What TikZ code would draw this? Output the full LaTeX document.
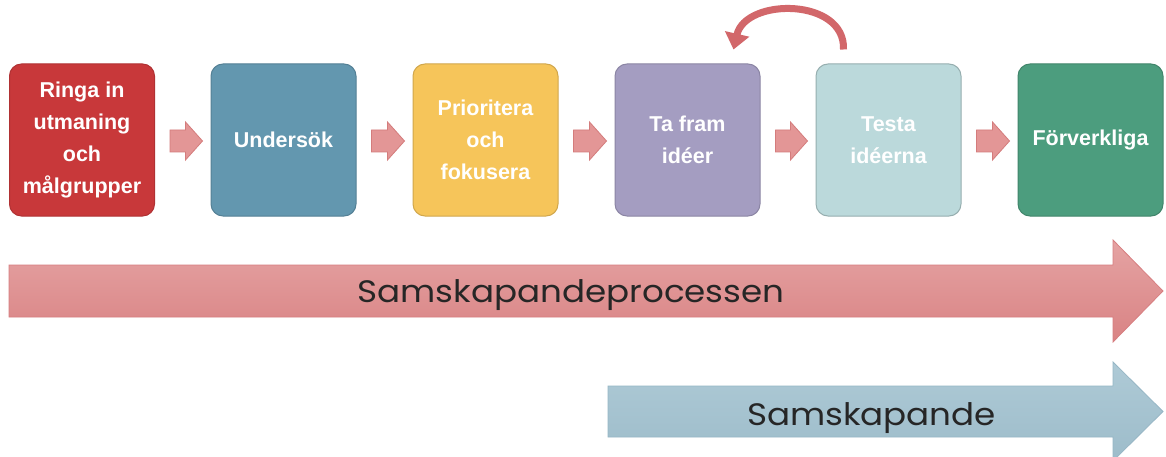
\documentclass[tikz,border=0pt]{standalone}
\usepackage{fontspec}
\setmainfont{Liberation Sans}
\newfontfamily\arrowfont{Poppins}
\usetikzlibrary{calc,arrows.meta}
\definecolor{cRed}{HTML}{C8383A}
\definecolor{cBlue}{HTML}{6397AF}
\definecolor{cYellow}{HTML}{F6C55A}
\definecolor{cPurple}{HTML}{A49DC1}
\definecolor{cTeal}{HTML}{BBD9DB}
\definecolor{cGreen}{HTML}{4C9D7E}
\definecolor{cPink}{HTML}{E39696}
\definecolor{cPinkDark}{HTML}{D47C7C}
\definecolor{bigRedTop}{HTML}{E5A3A3}
\definecolor{bigRedBot}{HTML}{D98384}
\definecolor{bigRedLine}{HTML}{D77E80}
\definecolor{bigBlueTop}{HTML}{AECAD6}
\definecolor{bigBlueBot}{HTML}{9DBCCA}
\definecolor{bigBlueLine}{HTML}{96B6C5}
\definecolor{curveRed}{HTML}{D2676A}
\definecolor{darkText}{HTML}{262626}
\tikzset{
  stepbox/.style={rounded corners=12pt, minimum width=145pt, minimum height=152pt,
    inner sep=0pt, text=white, align=center, line width=1pt,
    font=\bfseries\fontsize{21.5}{32}\selectfont},
  chev/.style={fill=cPink, draw=cPinkDark, line width=0.8pt, line join=miter},
  curvearrow/.style={draw=curveRed, line width=7pt,
    -{Triangle[width=24pt,length=16pt]}},
  bigtext/.style={text=darkText, inner sep=0pt, anchor=base,
    font=\arrowfont\fontsize{31}{31}\selectfont}
}
\newcommand{\chevarrow}[2]{%
  \draw[chev] ($(#1.east)+(15,-10)$) -- ($(#2.west)+(-25,-10)$)
    -- ($(#2.west)+(-25,-18)$) -- ($(#2.west)+(-8,1)$)
    -- ($(#2.west)+(-25,20)$) -- ($(#2.west)+(-25,12)$)
    -- ($(#1.east)+(15,12)$) -- cycle;}
\begin{document}
\begin{tikzpicture}[x=1pt,y=-1pt]
\clip (0,0) rectangle (1166,457);
\fill[white] (0,0) rectangle (1166,457);
% steps
\node[stepbox, fill=cRed, draw=cRed!88!black] (b1) at (82,140) {Ringa in\\utmaning\\och\\målgrupper};
\node[stepbox, fill=cBlue, draw=cBlue!85!black] (b2) at (283.5,140) {Undersök};
\node[stepbox, fill=cYellow, draw=cYellow!85!black] (b3) at (485.5,140) {Prioritera\\och\\fokusera};
\node[stepbox, fill=cPurple, draw=cPurple!85!black] (b4) at (687.5,140) {Ta fram\\idéer};
\node[stepbox, fill=cTeal, draw=cTeal!80!black] (b5) at (888.5,140) {Testa\\idéerna};
\node[stepbox, fill=cGreen, draw=cGreen!85!black] (b6) at (1090.5,140) {Förverkliga};
% small arrows
\chevarrow{b1}{b2}
\chevarrow{b2}{b3}
\chevarrow{b3}{b4}
\chevarrow{b4}{b5}
\chevarrow{b5}{b6}
% curved arrow
\draw[curvearrow] ($(b5.north)+(-45,-14)$) .. controls +(2,-52) and +(12,-52) .. ($(b4.north)+(46,-14)$);
% big arrows
\draw[bigRedLine, line width=0.8pt, top color=bigRedTop, bottom color=bigRedBot]
  (9,265) -- (1113,265) -- (1113,240) -- (1163,291) -- (1113,342) -- (1113,317) -- (9,317) -- cycle;
\node[bigtext] (t1) at (571,302) {\resizebox{427pt}{\height}{Samskapandeprocessen}};
\draw[bigBlueLine, line width=0.8pt, top color=bigBlueTop, bottom color=bigBlueBot]
  (608,386) -- (1113,386) -- (1113,362) -- (1163,411.5) -- (1113,461) -- (1113,437) -- (608,437) -- cycle;
\node[bigtext] (t2) at (871.5,425) {\resizebox{249pt}{\height}{Samskapande}};
\end{tikzpicture}
\end{document}
